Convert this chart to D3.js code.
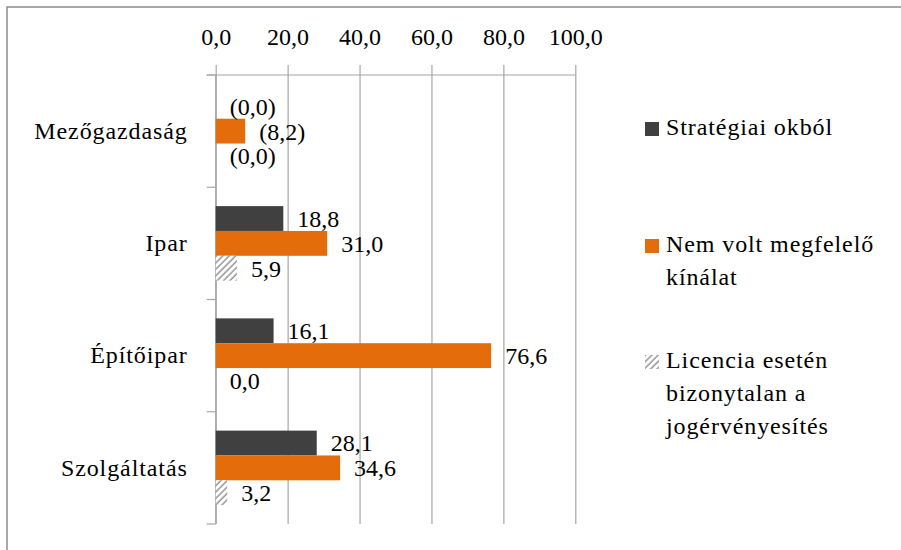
<!DOCTYPE html>
<html><head><meta charset="utf-8">
<script src="https://cdn.jsdelivr.net/npm/d3@7"></script>
<style>
body{margin:0;background:#fff}
</style>
</head><body><svg id="c" width="901" height="550"></svg>
<script>
const categories = ["Mezőgazdaság","Ipar","Építőipar","Szolgáltatás"];
const seriesNames = ["Stratégiai okból","Nem volt megfelelő kínálat","Licencia esetén bizonytalan a jogérvényesítés"];
const strategiai = [0, 18.8, 16.1, 28.1];
const nemVolt = [8.2, 31.0, 76.6, 34.6];
const licencia = [0, 5.9, 0.0, 3.2];
const bracketedCategories = ["Mezőgazdaság"];
const xTicks = [0, 20, 40, 60, 80, 100];
const legendLines = [["Stratégiai okból"], ["Nem volt megfelelő", "kínálat"], ["Licencia esetén", "bizonytalan a", "jogérvényesítés"]];

const seriesValues = [strategiai, nemVolt, licencia];
const fills = ["#404040", "#E46C0A", "url(#hatch)"];
const FONT = "'Liberation Serif'";

const svg = d3.select("#c");
const defs = svg.append("defs");
const pat = defs.append("pattern").attr("id","hatch").attr("width",4.5).attr("height",4.5)
  .attr("patternUnits","userSpaceOnUse").attr("patternTransform","rotate(45)");
pat.append("rect").attr("width",4.5).attr("height",4.5).attr("fill","#fff");
pat.append("line").attr("x1",1).attr("y1",0).attr("x2",1).attr("y2",4.5).attr("stroke","#707070").attr("stroke-width",1.1);

// frame
svg.append("rect").attr("x",7).attr("y",7).attr("width",1000).attr("height",1000)
  .attr("fill","none").attr("stroke","#8c8c8c").attr("stroke-width",1.5);

const fs = 24;
const x = d3.scaleLinear().domain([0,100]).range([215.7,575.3]);
const y = d3.scaleBand().domain(categories).range([75,524]).padding(0);
const ySub = d3.scaleBand().domain(d3.range(3)).range([0,y.bandwidth()]).paddingInner(0).paddingOuter(0.76);

const grid = "#a6a6a6";

// top axis with gridlines
const xAxis = d3.axisTop(x).tickValues(xTicks)
  .tickFormat(d => d3.format(".1f")(d).replace(".", ","))
  .tickSizeInner(-(524-65)).tickSizeOuter(0).tickPadding(20);
const gx = svg.append("g").attr("transform","translate(0,65)").call(xAxis);
gx.attr("font-family", null);
gx.select(".domain").remove();
gx.selectAll(".tick line").attr("stroke",grid).attr("stroke-width",1.2);
gx.selectAll(".tick text").attr("font-size",fs).style("font-family",FONT).attr("fill","#000");

// top horizontal line
svg.append("line").attr("x1",x(0)-9).attr("x2",x(100)).attr("y1",75).attr("y2",75)
  .attr("stroke",grid).attr("stroke-width",1.2);

// category axis
const yAxis = d3.axisLeft(y).tickSize(0).tickPadding(28);
const gy = svg.append("g").attr("transform",`translate(${x(0)},0)`).call(yAxis);
gy.attr("font-family", null);
gy.select(".domain").remove();
gy.selectAll(".tick text").attr("font-size",fs).style("font-family",FONT).attr("fill","#000").attr("letter-spacing","0.9px");

// boundary ticks and left axis line
const bounds = categories.map(c => y(c)).concat([y.range()[1]]);
svg.selectAll(".btick").data(bounds).join("line").attr("class","btick")
  .attr("x1",x(0)-9).attr("x2",x(0)).attr("y1",d=>d).attr("y2",d=>d)
  .attr("stroke",grid).attr("stroke-width",1.2);
svg.append("line").attr("x1",x(0)).attr("x2",x(0)).attr("y1",75).attr("y2",524)
  .attr("stroke",grid).attr("stroke-width",1.2);

// bars
const rows = [];
categories.forEach((c, ci) => {
  seriesValues.forEach((vals, si) => rows.push({c, si, v: vals[ci]}));
});
svg.selectAll(".bar").data(rows).join("rect").attr("class","bar")
  .attr("x", x(0)).attr("y", d => y(d.c) + ySub(d.si))
  .attr("width", d => x(d.v) - x(0)).attr("height", ySub.bandwidth())
  .attr("fill", d => fills[d.si]);

// value labels
svg.selectAll(".vlab").data(rows).join("text").attr("class","vlab")
  .attr("x", d => x(d.v) + 14)
  .attr("y", d => y(d.c) + ySub(d.si) + ySub.bandwidth()/2)
  .attr("dy","0.35em").attr("font-size",fs).style("font-family",FONT).attr("fill","#000")
  .text(d => {
    const s = d3.format(".1f")(d.v).replace(".", ",");
    return bracketedCategories.includes(d.c) ? "(" + s + ")" : s;
  });

// legend
const legY = [135, 252, 368];
const lineH = 33;
legendLines.forEach((lines, i) => {
  svg.append("rect").attr("x",645).attr("y",legY[i]-13).attr("width",14).attr("height",14).attr("fill",fills[i]);
  const t = svg.append("text").attr("x",666).attr("y",legY[i]).attr("font-size",fs)
    .style("font-family",FONT).attr("fill","#000").attr("letter-spacing","0.9px");
  lines.forEach((l, j) => t.append("tspan").attr("x",666).attr("y",legY[i]+j*lineH).text(l));
});
</script>
</body></html>
